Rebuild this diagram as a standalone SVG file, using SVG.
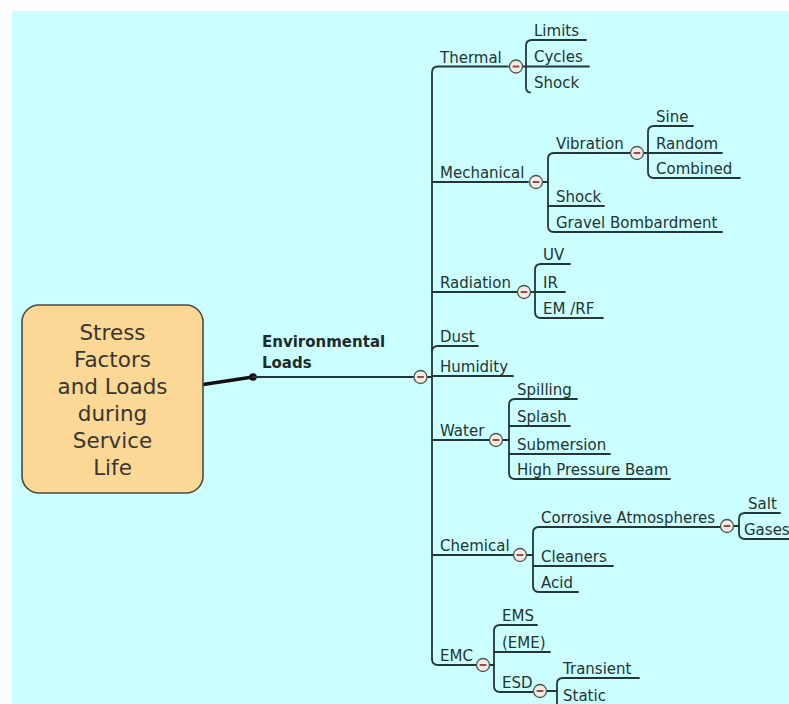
<svg xmlns="http://www.w3.org/2000/svg" width="789" height="704" viewBox="0 0 789 704">
  <style>
    .bg { fill: #ccffff; }
    .ln { fill: none; stroke: #233836; stroke-width: 1.8; stroke-linecap: round; }
    .lbl { font-family: "DejaVu Sans", Verdana, sans-serif; font-size: 15px; fill: #213432; }
    .root { font-family: "DejaVu Sans", Verdana, sans-serif; font-size: 21.5px; fill: #3a3530; text-anchor: middle; }
    .main { font-family: "DejaVu Sans", Verdana, sans-serif; font-size: 15px; font-weight: bold; fill: #1c2b2a; }
    .tog circle { fill: #f3ece3; stroke: #4d5552; stroke-width: 1.3; }
    .tog rect { fill: #9a4a48; }
  </style>
  <defs>
    <!-- collapse toggle: circle with a minus sign -->
    <g id="toggle" class="tog">
      <circle cx="0" cy="0" r="6.5"/>
      <rect x="-3.5" y="-1" width="7" height="2" rx="0.8"/>
    </g>
  </defs>

  <rect x="0" y="0" width="789" height="704" fill="#ffffff"/>
  <rect class="bg" x="12" y="11" width="777" height="693"/>

  <!-- connectors -->
  <g id="connectors">
    <!-- root to main topic -->
    <path d="M 203 384.5 L 253 377" stroke="#111" stroke-width="3.6" fill="none"/>
    <circle cx="253" cy="377" r="3.8" fill="#111"/>
    <path class="ln" d="M 253 377 L 414 377" stroke-width="1.4"/>
    <path class="ln" d="M 427 377 L 432 377"/>

    <!-- trunk of Environmental Loads -->
    <path class="ln" d="M 432 659 L 432 72.5 Q 432 66.5 438 66.5 L 508 66.5"/>
    <path class="ln" d="M 432 659 Q 432 665 438 665 L 476 665"/>
    <path class="ln" d="M 432 182 L 528 182"/>
    <path class="ln" d="M 432 292 L 517 292"/>
    <path class="ln" d="M 432 352 Q 432 346 438 346 L 478 346"/>
    <path class="ln" d="M 432 376 L 513 376"/>
    <path class="ln" d="M 432 440 L 489 440"/>
    <path class="ln" d="M 432 555 L 513 555"/>

    <!-- Thermal children -->
    <path class="ln" d="M 522.5 66.5 L 526 66.5"/>
    <path class="ln" d="M 532 40 Q 526 40 526 46 L 526 87 Q 526 92 530 92.5"/>
    <path class="ln" d="M 532 40 L 586 40"/>
    <path class="ln" d="M 526 66.5 L 589 66.5"/>

    <!-- Mechanical children -->
    <path class="ln" d="M 542.5 182 L 548 182"/>
    <path class="ln" d="M 554 153 Q 548 153 548 159 L 548 226 Q 548 232 554 232 L 722 232"/>
    <path class="ln" d="M 554 153 L 630 153"/>
    <path class="ln" d="M 548 206 L 604 206"/>

    <!-- Vibration children -->
    <path class="ln" d="M 643.5 153 L 648 153"/>
    <path class="ln" d="M 654 126 Q 648 126 648 132 L 648 172 Q 648 178 654 178 L 740 178"/>
    <path class="ln" d="M 654 126 L 693 126"/>
    <path class="ln" d="M 648 153 L 722 153"/>

    <!-- Radiation children -->
    <path class="ln" d="M 530.5 292 L 535 292"/>
    <path class="ln" d="M 541 264 Q 535 264 535 270 L 535 312 Q 535 318 541 318 L 603 318"/>
    <path class="ln" d="M 541 264 L 570 264"/>
    <path class="ln" d="M 535 292 L 565 292"/>

    <!-- Water children -->
    <path class="ln" d="M 502.5 440 L 509 440"/>
    <path class="ln" d="M 515 399 Q 509 399 509 405 L 509 473 Q 509 479 515 479 L 670 479"/>
    <path class="ln" d="M 515 399 L 577 399"/>
    <path class="ln" d="M 509 426 L 570 426"/>
    <path class="ln" d="M 509 454 L 610 454"/>

    <!-- Chemical children -->
    <path class="ln" d="M 526.5 555 L 533 555"/>
    <path class="ln" d="M 539 527 Q 533 527 533 533 L 533 586 Q 533 592 539 592 L 578 592"/>
    <path class="ln" d="M 539 527 L 720 527"/>
    <path class="ln" d="M 533 566 L 613 566"/>

    <!-- Corrosive Atmospheres children -->
    <path class="ln" d="M 733.5 526 L 739 526"/>
    <path class="ln" d="M 745 513 Q 739 513 739 519 L 739 533 Q 739 539 745 539 L 789 539"/>
    <path class="ln" d="M 745 513 L 780 513"/>

    <!-- EMC children -->
    <path class="ln" d="M 489.5 665 L 494 665"/>
    <path class="ln" d="M 500 625 Q 494 625 494 631 L 494 686 Q 494 692 500 692 L 533 692"/>
    <path class="ln" d="M 500 625 L 537 625"/>
    <path class="ln" d="M 494 652 L 550 652"/>

    <!-- ESD children -->
    <path class="ln" d="M 546.5 691 L 557 691"/>
    <path class="ln" d="M 563 678 Q 557 678 557 684 L 557 706"/>
    <path class="ln" d="M 563 678 L 639 678"/>
  </g>

  <!-- central topic -->
  <g id="root">
    <rect x="22" y="305" width="181" height="188" rx="17" fill="#fbd896" stroke="#4e4a44" stroke-width="1.6"/>
    <text class="root" x="112.5" y="340">Stress</text>
    <text class="root" x="112.5" y="367">Factors</text>
    <text class="root" x="112.5" y="394">and Loads</text>
    <text class="root" x="112.5" y="421">during</text>
    <text class="root" x="112.5" y="448">Service</text>
    <text class="root" x="112.5" y="475">Life</text>
  </g>

  <g id="environmental-loads">
    <text class="main" x="262" y="347">Environmental</text>
    <text class="main" x="262" y="368">Loads</text>
    <use href="#toggle" x="420.5" y="377"/>
  </g>

  <g id="thermal">
    <text class="lbl" x="440" y="62.5">Thermal</text>
    <use href="#toggle" x="516" y="66.5"/>
  </g>
  <g id="thermal-limits"><text class="lbl" x="534" y="35.5">Limits</text></g>
  <g id="thermal-cycles"><text class="lbl" x="534" y="62">Cycles</text></g>
  <g id="thermal-shock"><text class="lbl" x="534" y="88">Shock</text></g>

  <g id="mechanical">
    <text class="lbl" x="440" y="178">Mechanical</text>
    <use href="#toggle" x="536" y="182"/>
  </g>
  <g id="vibration">
    <text class="lbl" x="556" y="148.5">Vibration</text>
    <use href="#toggle" x="637" y="153"/>
  </g>
  <g id="vibration-sine"><text class="lbl" x="656" y="121.5">Sine</text></g>
  <g id="vibration-random"><text class="lbl" x="656" y="148.5">Random</text></g>
  <g id="vibration-combined"><text class="lbl" x="656" y="173.5">Combined</text></g>
  <g id="mechanical-shock"><text class="lbl" x="556" y="201.5">Shock</text></g>
  <g id="gravel-bombardment"><text class="lbl" x="556" y="227.5">Gravel Bombardment</text></g>

  <g id="radiation">
    <text class="lbl" x="440" y="288">Radiation</text>
    <use href="#toggle" x="524" y="292"/>
  </g>
  <g id="radiation-uv"><text class="lbl" x="543" y="259.5">UV</text></g>
  <g id="radiation-ir"><text class="lbl" x="543" y="287.5">IR</text></g>
  <g id="radiation-emrf"><text class="lbl" x="543" y="313.5">EM /RF</text></g>

  <g id="dust"><text class="lbl" x="440" y="341.5">Dust</text></g>
  <g id="humidity"><text class="lbl" x="440" y="371.5">Humidity</text></g>

  <g id="water">
    <text class="lbl" x="440" y="435.5">Water</text>
    <use href="#toggle" x="496" y="440"/>
  </g>
  <g id="water-spilling"><text class="lbl" x="517" y="394.5">Spilling</text></g>
  <g id="water-splash"><text class="lbl" x="517" y="421.5">Splash</text></g>
  <g id="water-submersion"><text class="lbl" x="517" y="449.5">Submersion</text></g>
  <g id="water-high-pressure-beam"><text class="lbl" x="517" y="474.5">High Pressure Beam</text></g>

  <g id="chemical">
    <text class="lbl" x="440" y="550.5">Chemical</text>
    <use href="#toggle" x="520" y="555"/>
  </g>
  <g id="corrosive-atmospheres">
    <text class="lbl" x="541" y="522.5">Corrosive Atmospheres</text>
    <use href="#toggle" x="727" y="526"/>
  </g>
  <g id="corrosive-salt"><text class="lbl" x="748" y="508.5">Salt</text></g>
  <g id="corrosive-gases"><text class="lbl" x="744" y="534.5" font-size="14">Gases</text></g>
  <g id="chemical-cleaners"><text class="lbl" x="541" y="561.5">Cleaners</text></g>
  <g id="chemical-acid"><text class="lbl" x="541" y="587.5">Acid</text></g>

  <g id="emc">
    <text class="lbl" x="440" y="660.5">EMC</text>
    <use href="#toggle" x="483" y="665"/>
  </g>
  <g id="emc-ems"><text class="lbl" x="502" y="620.5">EMS</text></g>
  <g id="emc-eme"><text class="lbl" x="502" y="647.5">(EME)</text></g>
  <g id="esd">
    <text class="lbl" x="502" y="687.5">ESD</text>
    <use href="#toggle" x="540" y="691"/>
  </g>
  <g id="esd-transient"><text class="lbl" x="563" y="673.5">Transient</text></g>
  <g id="esd-static"><text class="lbl" x="563" y="701">Static</text></g>
</svg>
